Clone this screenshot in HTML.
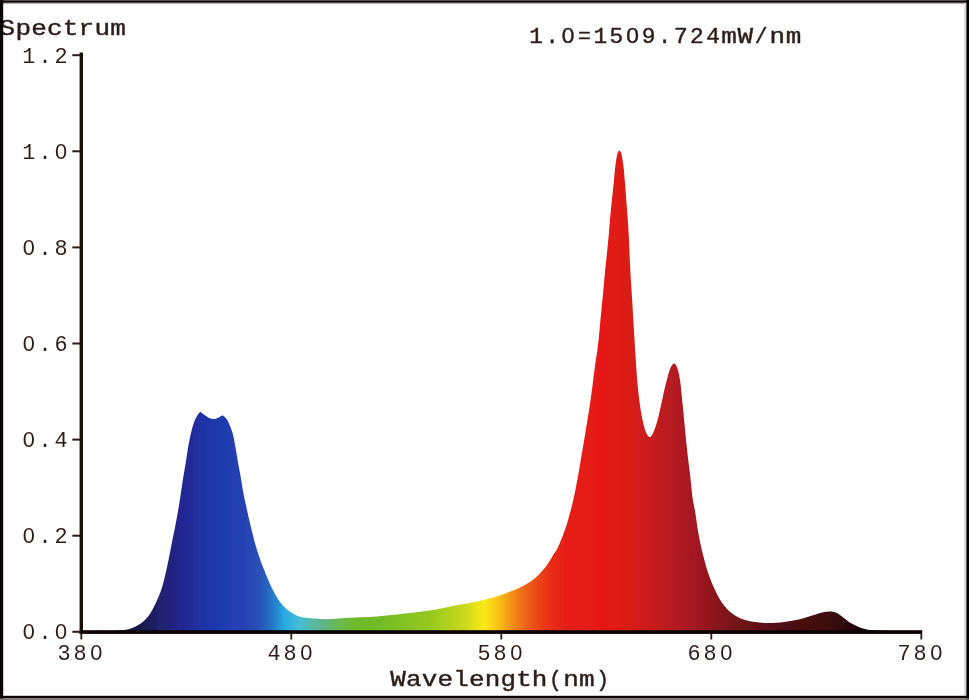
<!DOCTYPE html>
<html><head><meta charset="utf-8"><title>Spectrum</title>
<style>
html,body{margin:0;padding:0;background:#fff;}
body{width:969px;height:700px;overflow:hidden;position:relative;}
svg{position:absolute;left:0;top:0;display:block;}
text{font-family:"Liberation Mono",monospace;font-size:21.8px;fill:#2d1f1a;text-anchor:middle;}
.r{font-weight:400;}
.b{font-size:21.3px;font-weight:400;stroke:#2d1f1a;stroke-width:0.45px;vector-effect:non-scaling-stroke;}
</style></head>
<body>
<svg width="969" height="700" viewBox="0 0 969 700">
<defs>
<linearGradient id="sp" gradientUnits="userSpaceOnUse" x1="84.0" y1="0" x2="921.0" y2="0"><stop offset="0.0000" stop-color="rgb(20,20,60)"/><stop offset="0.0676" stop-color="rgb(25,25,75)"/><stop offset="0.0920" stop-color="rgb(33,33,112)"/><stop offset="0.1171" stop-color="rgb(36,38,146)"/><stop offset="0.1416" stop-color="rgb(31,50,165)"/><stop offset="0.1661" stop-color="rgb(30,60,175)"/><stop offset="0.1912" stop-color="rgb(38,66,178)"/><stop offset="0.2103" stop-color="rgb(42,82,184)"/><stop offset="0.2254" stop-color="rgb(36,120,200)"/><stop offset="0.2401" stop-color="rgb(42,170,225)"/><stop offset="0.2576" stop-color="rgb(70,190,215)"/><stop offset="0.2724" stop-color="rgb(85,185,165)"/><stop offset="0.2879" stop-color="rgb(95,182,130)"/><stop offset="0.3059" stop-color="rgb(108,184,75)"/><stop offset="0.3238" stop-color="rgb(112,186,45)"/><stop offset="0.3536" stop-color="rgb(114,187,38)"/><stop offset="0.4134" stop-color="rgb(150,200,30)"/><stop offset="0.4528" stop-color="rgb(200,216,30)"/><stop offset="0.4779" stop-color="rgb(250,232,20)"/><stop offset="0.4946" stop-color="rgb(248,195,22)"/><stop offset="0.5066" stop-color="rgb(245,158,24)"/><stop offset="0.5173" stop-color="rgb(241,124,25)"/><stop offset="0.5293" stop-color="rgb(238,96,26)"/><stop offset="0.5412" stop-color="rgb(235,72,25)"/><stop offset="0.5568" stop-color="rgb(232,46,24)"/><stop offset="0.5747" stop-color="rgb(231,30,21)"/><stop offset="0.6165" stop-color="rgb(230,25,20)"/><stop offset="0.6523" stop-color="rgb(218,27,25)"/><stop offset="0.7001" stop-color="rgb(184,26,33)"/><stop offset="0.7360" stop-color="rgb(158,25,32)"/><stop offset="0.7718" stop-color="rgb(120,20,26)"/><stop offset="0.8315" stop-color="rgb(82,15,20)"/><stop offset="0.8901" stop-color="rgb(60,8,12)"/><stop offset="0.9271" stop-color="rgb(30,5,6)"/><stop offset="1.0000" stop-color="rgb(10,2,2)"/></linearGradient>
<filter id="soft" x="0" y="0" width="969" height="700" filterUnits="userSpaceOnUse"><feGaussianBlur stdDeviation="0.45"/></filter>
</defs>
<rect x="0" y="0" width="969" height="700" fill="#ffffff"/>
<g filter="url(#soft)">
<!-- spectrum fill -->
<path d="M 84.00 633.00 L 84.00 631.00 C 87.50 630.97 98.90 630.93 105.00 630.80 C 111.10 630.67 116.30 630.60 120.60 630.20 C 124.90 629.80 127.38 629.57 130.80 628.40 C 134.22 627.23 138.10 625.35 141.10 623.20 C 144.10 621.05 146.43 618.70 148.80 615.50 C 151.17 612.30 153.15 608.50 155.30 604.00 C 157.45 599.50 159.78 594.50 161.70 588.50 C 163.62 582.50 165.08 575.70 166.80 568.00 C 168.52 560.30 170.40 550.30 172.00 542.30 C 173.60 534.30 175.25 526.10 176.40 520.00 C 177.55 513.90 178.12 510.47 178.90 505.70 C 179.68 500.93 180.37 496.17 181.10 491.40 C 181.83 486.63 182.53 481.85 183.30 477.10 C 184.07 472.35 184.93 467.65 185.70 462.90 C 186.47 458.15 187.07 453.37 187.90 448.60 C 188.73 443.83 189.85 438.15 190.70 434.30 C 191.55 430.45 192.25 427.97 193.00 425.50 C 193.75 423.03 194.45 421.22 195.20 419.50 C 195.95 417.78 196.67 416.47 197.50 415.20 C 198.33 413.93 199.28 412.12 200.20 411.90 C 201.12 411.68 202.02 413.22 203.00 413.90 C 203.98 414.58 205.07 415.30 206.10 416.00 C 207.13 416.70 207.90 417.58 209.20 418.10 C 210.50 418.62 212.35 419.20 213.90 419.10 C 215.45 419.00 217.05 418.10 218.50 417.50 C 219.95 416.90 221.40 415.40 222.60 415.50 C 223.80 415.60 224.85 417.18 225.70 418.10 C 226.55 419.02 227.05 419.85 227.70 421.00 C 228.35 422.15 228.73 422.78 229.60 425.00 C 230.47 427.22 231.88 430.37 232.90 434.30 C 233.92 438.23 234.83 443.83 235.70 448.60 C 236.57 453.37 237.27 458.15 238.10 462.90 C 238.93 467.65 239.87 472.35 240.70 477.10 C 241.53 481.85 242.20 486.63 243.10 491.40 C 244.00 496.17 245.07 500.93 246.10 505.70 C 247.13 510.47 248.28 515.62 249.30 520.00 C 250.32 524.38 250.92 527.00 252.20 532.00 C 253.48 537.00 255.13 544.00 257.00 550.00 C 258.87 556.00 261.27 562.43 263.40 568.00 C 265.53 573.57 267.65 578.70 269.80 583.40 C 271.95 588.10 274.15 592.57 276.30 596.20 C 278.45 599.83 280.35 602.57 282.70 605.20 C 285.05 607.83 287.62 610.12 290.40 612.00 C 293.18 613.88 296.58 615.53 299.40 616.50 C 302.22 617.47 302.87 617.35 307.30 617.80 C 311.73 618.25 319.25 619.20 326.00 619.20 C 332.75 619.20 339.35 618.27 347.80 617.80 C 356.25 617.33 367.07 617.12 376.70 616.40 C 386.33 615.68 396.72 614.48 405.60 613.50 C 414.48 612.52 422.10 611.75 430.00 610.50 C 437.90 609.25 444.22 607.70 453.00 606.00 C 461.78 604.30 474.43 602.22 482.70 600.30 C 490.97 598.38 496.55 596.55 502.60 594.50 C 508.65 592.45 515.10 589.70 519.00 588.00 C 522.90 586.30 523.78 585.60 526.00 584.30 C 528.22 583.00 530.35 581.62 532.30 580.20 C 534.25 578.78 535.98 577.42 537.70 575.80 C 539.42 574.18 540.88 572.55 542.60 570.50 C 544.32 568.45 546.27 566.03 548.00 563.50 C 549.73 560.97 551.30 558.08 553.00 555.30 C 554.70 552.52 556.03 551.55 558.20 546.80 C 560.37 542.05 563.57 534.27 566.00 526.80 C 568.43 519.33 570.87 510.05 572.80 502.00 C 574.73 493.95 576.13 486.33 577.60 478.50 C 579.07 470.67 580.27 462.85 581.60 455.00 C 582.93 447.15 584.32 439.13 585.60 431.40 C 586.88 423.67 588.15 416.22 589.30 408.60 C 590.45 400.98 591.48 393.32 592.50 385.70 C 593.52 378.08 594.58 368.85 595.40 362.90 C 596.22 356.95 596.80 354.53 597.40 350.00 C 598.00 345.47 598.52 340.47 599.00 335.70 C 599.48 330.93 599.85 326.17 600.30 321.40 C 600.75 316.63 601.23 311.85 601.70 307.10 C 602.17 302.35 602.65 297.65 603.10 292.90 C 603.55 288.15 603.95 283.37 604.40 278.60 C 604.85 273.83 605.32 269.07 605.80 264.30 C 606.28 259.53 606.80 255.00 607.30 250.00 C 607.80 245.00 608.32 239.78 608.80 234.30 C 609.28 228.82 609.68 222.82 610.20 217.10 C 610.72 211.38 611.32 205.70 611.90 200.00 C 612.48 194.30 613.12 188.62 613.70 182.90 C 614.28 177.18 614.83 170.35 615.40 165.70 C 615.97 161.05 616.60 157.38 617.10 155.00 C 617.60 152.62 618.02 152.17 618.40 151.40 C 618.78 150.63 619.07 150.40 619.40 150.40 C 619.73 150.40 620.02 150.63 620.40 151.40 C 620.78 152.17 621.20 152.62 621.70 155.00 C 622.20 157.38 622.85 161.05 623.40 165.70 C 623.95 170.35 624.52 177.18 625.00 182.90 C 625.48 188.62 625.87 194.30 626.30 200.00 C 626.73 205.70 627.20 211.38 627.60 217.10 C 628.00 222.82 628.40 228.82 628.70 234.30 C 629.00 239.78 629.18 245.00 629.40 250.00 C 629.62 255.00 629.77 259.53 630.00 264.30 C 630.23 269.07 630.52 273.83 630.80 278.60 C 631.08 283.37 631.40 288.15 631.70 292.90 C 632.00 297.65 632.32 302.35 632.60 307.10 C 632.88 311.85 633.12 316.63 633.40 321.40 C 633.68 326.17 633.98 330.60 634.30 335.70 C 634.62 340.80 634.82 344.62 635.30 352.00 C 635.78 359.38 636.47 371.47 637.20 380.00 C 637.93 388.53 638.77 396.33 639.70 403.20 C 640.63 410.07 641.72 416.27 642.80 421.20 C 643.88 426.13 645.08 430.15 646.20 432.80 C 647.32 435.45 648.43 436.90 649.50 437.10 C 650.57 437.30 651.43 436.22 652.60 434.00 C 653.77 431.78 655.23 427.97 656.50 423.80 C 657.77 419.63 659.08 413.80 660.20 409.00 C 661.32 404.20 662.28 399.12 663.20 395.00 C 664.12 390.88 664.78 387.98 665.70 384.30 C 666.62 380.62 667.77 375.92 668.70 372.90 C 669.63 369.88 670.40 367.77 671.30 366.20 C 672.20 364.63 673.18 363.40 674.10 363.50 C 675.02 363.60 676.03 365.23 676.80 366.80 C 677.57 368.37 678.07 369.98 678.70 372.90 C 679.33 375.82 679.90 378.60 680.60 384.30 C 681.30 390.00 682.15 399.48 682.90 407.10 C 683.65 414.72 684.35 422.37 685.10 430.00 C 685.85 437.63 686.55 445.28 687.40 452.90 C 688.25 460.52 689.32 468.08 690.20 475.70 C 691.08 483.32 691.88 492.65 692.70 498.60 C 693.52 504.55 694.12 505.45 695.10 511.40 C 696.08 517.35 697.30 527.15 698.60 534.30 C 699.90 541.45 701.23 547.63 702.90 554.30 C 704.57 560.97 706.47 568.12 708.60 574.30 C 710.73 580.48 713.08 586.17 715.70 591.40 C 718.32 596.63 721.20 601.78 724.30 605.70 C 727.40 609.62 730.50 612.42 734.30 614.90 C 738.10 617.38 742.10 619.27 747.10 620.60 C 752.10 621.93 758.10 622.67 764.30 622.90 C 770.50 623.13 778.08 622.68 784.30 622.00 C 790.52 621.32 796.65 619.95 801.60 618.80 C 806.55 617.65 810.57 616.13 814.00 615.10 C 817.43 614.07 819.62 613.18 822.20 612.60 C 824.78 612.02 827.25 611.60 829.50 611.60 C 831.75 611.60 833.47 611.67 835.70 612.60 C 837.93 613.53 840.33 615.42 842.90 617.20 C 845.47 618.98 848.00 621.52 851.10 623.30 C 854.20 625.08 857.72 626.75 861.50 627.90 C 865.28 629.05 867.38 629.68 873.80 630.20 C 880.22 630.72 892.13 630.83 900.00 631.00 C 907.87 631.17 917.50 631.17 921.00 631.20 L 921.00 633 Z" fill="url(#sp)"/>
<!-- axes -->
<rect x="79.6" y="52.5" width="3.4" height="581.5" fill="#1a100d"/>
<rect x="79.6" y="630.2" width="842.6" height="3.7" fill="#0c0606"/>
<rect x="72.3" y="54.20" width="8" height="2" fill="#2a1c18"/><rect x="72.3" y="150.30" width="8" height="2" fill="#2a1c18"/><rect x="72.3" y="246.40" width="8" height="2" fill="#2a1c18"/><rect x="72.3" y="342.50" width="8" height="2" fill="#2a1c18"/><rect x="72.3" y="438.60" width="8" height="2" fill="#2a1c18"/><rect x="72.3" y="534.70" width="8" height="2" fill="#2a1c18"/><rect x="72.3" y="630.80" width="8" height="2" fill="#2a1c18"/>
<rect x="80.40" y="633" width="1.8" height="6.5" fill="#2a1c18"/><rect x="290.40" y="633" width="1.8" height="6.5" fill="#2a1c18"/><rect x="500.40" y="633" width="1.8" height="6.5" fill="#2a1c18"/><rect x="710.40" y="633" width="1.8" height="6.5" fill="#2a1c18"/><rect x="920.40" y="633" width="1.8" height="6.5" fill="#2a1c18"/>
<text x="28.90" y="63" class="r">1</text><text x="45.00" y="63" class="r">.</text><text x="61.10" y="63" class="r">2</text><text x="28.90" y="159" class="r">1</text><text x="45.00" y="159" class="r">.</text><text x="61.10" y="159" class="r">0</text><text x="28.90" y="255" class="r">0</text><text x="45.00" y="255" class="r">.</text><text x="61.10" y="255" class="r">8</text><text x="28.90" y="351" class="r">0</text><text x="45.00" y="351" class="r">.</text><text x="61.10" y="351" class="r">6</text><text x="28.90" y="447" class="r">0</text><text x="45.00" y="447" class="r">.</text><text x="61.10" y="447" class="r">4</text><text x="28.90" y="543" class="r">0</text><text x="45.00" y="543" class="r">.</text><text x="61.10" y="543" class="r">2</text><text x="28.90" y="639" class="r">0</text><text x="45.00" y="639" class="r">.</text><text x="61.10" y="639" class="r">0</text>
<text x="64.00" y="660" class="r">3</text><text x="80.10" y="660" class="r">8</text><text x="96.20" y="660" class="r">0</text><text x="274.00" y="660" class="r">4</text><text x="290.10" y="660" class="r">8</text><text x="306.20" y="660" class="r">0</text><text x="484.00" y="660" class="r">5</text><text x="500.10" y="660" class="r">8</text><text x="516.20" y="660" class="r">0</text><text x="694.00" y="660" class="r">6</text><text x="710.10" y="660" class="r">8</text><text x="726.20" y="660" class="r">0</text><text x="904.00" y="660" class="r">7</text><text x="920.10" y="660" class="r">8</text><text x="936.20" y="660" class="r">0</text>
<text transform="translate(7.40,35) scale(1.220,1)" class="b">S</text><text transform="translate(23.20,35) scale(1.220,1)" class="b">p</text><text transform="translate(39.00,35) scale(1.220,1)" class="b">e</text><text transform="translate(54.80,35) scale(1.220,1)" class="b">c</text><text transform="translate(70.60,35) scale(1.220,1)" class="b">t</text><text transform="translate(86.40,35) scale(1.220,1)" class="b">r</text><text transform="translate(102.20,35) scale(1.220,1)" class="b">u</text><text transform="translate(118.00,35) scale(1.220,1)" class="b">m</text>
<text transform="translate(536.00,43) scale(1.070,1)" class="b">1</text><text x="552.09" y="43" class="b">.</text><text transform="translate(568.18,43) scale(1.070,1)" class="b">0</text><text x="584.27" y="43" class="b">=</text><text transform="translate(600.36,43) scale(1.070,1)" class="b">1</text><text transform="translate(616.45,43) scale(1.070,1)" class="b">5</text><text transform="translate(632.54,43) scale(1.070,1)" class="b">0</text><text transform="translate(648.63,43) scale(1.070,1)" class="b">9</text><text x="664.72" y="43" class="b">.</text><text transform="translate(680.81,43) scale(1.070,1)" class="b">7</text><text transform="translate(696.90,43) scale(1.070,1)" class="b">2</text><text transform="translate(712.99,43) scale(1.070,1)" class="b">4</text><text transform="translate(729.08,43) scale(1.220,1)" class="b">m</text><text transform="translate(745.17,43) scale(1.220,1)" class="b">W</text><text x="761.26" y="43" class="b">/</text><text transform="translate(777.35,43) scale(1.220,1)" class="b">n</text><text transform="translate(793.44,43) scale(1.220,1)" class="b">m</text>
<text transform="translate(398.00,686) scale(1.220,1)" class="b">W</text><text transform="translate(413.74,686) scale(1.220,1)" class="b">a</text><text transform="translate(429.48,686) scale(1.220,1)" class="b">v</text><text transform="translate(445.22,686) scale(1.220,1)" class="b">e</text><text transform="translate(460.96,686) scale(1.220,1)" class="b">l</text><text transform="translate(476.70,686) scale(1.220,1)" class="b">e</text><text transform="translate(492.44,686) scale(1.220,1)" class="b">n</text><text transform="translate(508.18,686) scale(1.220,1)" class="b">g</text><text transform="translate(523.92,686) scale(1.220,1)" class="b">t</text><text transform="translate(539.66,686) scale(1.220,1)" class="b">h</text><text x="555.40" y="686" class="b">(</text><text transform="translate(571.14,686) scale(1.220,1)" class="b">n</text><text transform="translate(586.88,686) scale(1.220,1)" class="b">m</text><text x="602.62" y="686" class="b">)</text>
<ellipse cx="61.10" cy="151.77" rx="2.30" ry="3.0" fill="#fff"/><ellipse cx="28.90" cy="247.77" rx="2.30" ry="3.0" fill="#fff"/><ellipse cx="28.90" cy="343.77" rx="2.30" ry="3.0" fill="#fff"/><ellipse cx="28.90" cy="439.77" rx="2.30" ry="3.0" fill="#fff"/><ellipse cx="28.90" cy="535.77" rx="2.30" ry="3.0" fill="#fff"/><ellipse cx="28.90" cy="631.77" rx="2.30" ry="3.0" fill="#fff"/><ellipse cx="61.10" cy="631.77" rx="2.30" ry="3.0" fill="#fff"/><ellipse cx="96.20" cy="652.77" rx="2.30" ry="3.0" fill="#fff"/><ellipse cx="306.20" cy="652.77" rx="2.30" ry="3.0" fill="#fff"/><ellipse cx="516.20" cy="652.77" rx="2.30" ry="3.0" fill="#fff"/><ellipse cx="726.20" cy="652.77" rx="2.30" ry="3.0" fill="#fff"/><ellipse cx="936.20" cy="652.77" rx="2.30" ry="3.0" fill="#fff"/><ellipse cx="568.18" cy="35.93" rx="2.46" ry="3.0" fill="#fff"/><ellipse cx="632.54" cy="35.93" rx="2.46" ry="3.0" fill="#fff"/>
</g>
<!-- outer frame -->
<rect x="0" y="0" width="969" height="1" fill="#6b5f5c"/>
<rect x="0" y="0.8" width="969" height="2" fill="#000"/>
<rect x="0" y="2.8" width="969" height="1.2" fill="#b9b0ad"/>
<rect x="0" y="0" width="3.2" height="700" fill="#0a0505"/>
<rect x="964.3" y="3" width="2.2" height="694" fill="#d8d4d2"/>
<rect x="966.4" y="0" width="2.6" height="700" fill="#000"/>
<rect x="0" y="695.8" width="969" height="2.6" fill="#0a0505"/>
<rect x="0" y="698.4" width="969" height="1.6" fill="#7d7371"/>
</svg>
</body></html>
